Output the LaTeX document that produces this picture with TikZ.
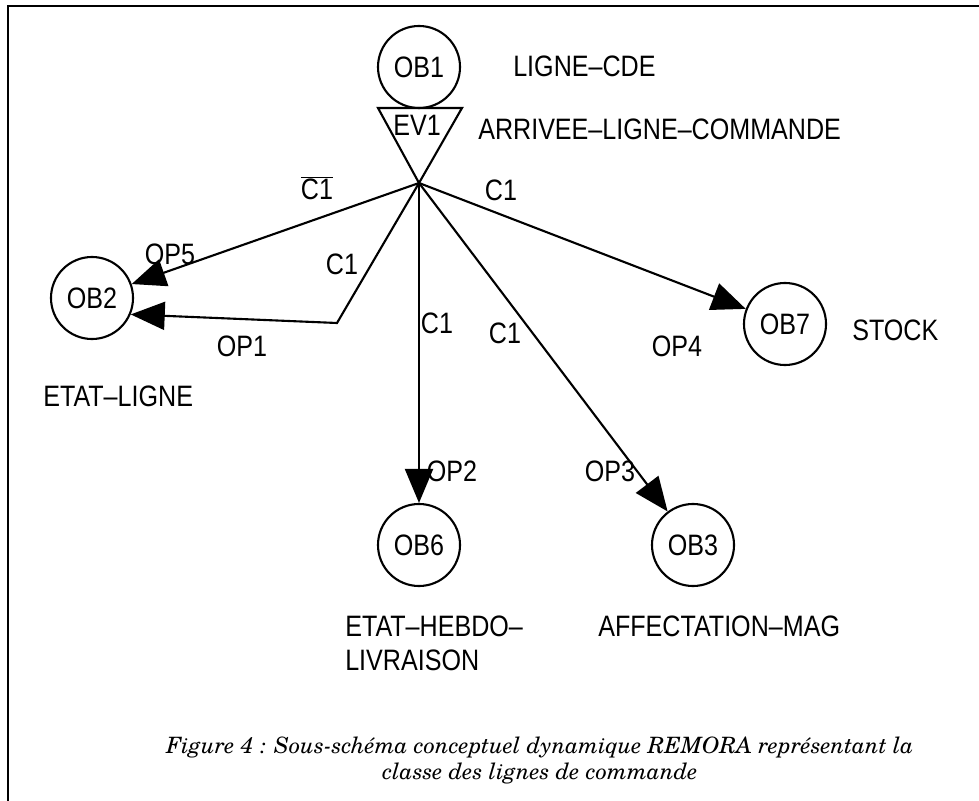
\documentclass[tikz,border=0pt]{standalone}
\usepackage{fontspec}
\newfontfamily\plotfont[FakeStretch=0.85]{Liberation Sans}
\newfontfamily\legendfont{TeX Gyre Schola}
\usetikzlibrary{arrows.meta}
\newlength{\obsize}
\setlength{\obsize}{2.05cm}
\newcommand{\objet}[3]{
  \node[obj] (#1) at (#2) {#3};
}
\tikzset{
  obj/.style={draw, circle, line width=1.5pt, minimum size=\obsize, inner sep=0pt,
    font=\plotfont\fontsize{21}{24}\selectfont},
  lbl/.style={font=\plotfont\fontsize{21}{24}\selectfont, inner sep=0pt},
  op/.style={line width=1.5pt, -{Triangle[length=0.85cm, width=0.7cm]}},
}

\begin{document}
\begin{tikzpicture}[x=0.025cm, y=-0.025cm]
  \useasboundingbox (0,0) rectangle (979,801);
  % cadre
  \draw[line width=1.5pt] (979,6) -- (8,6) -- (8,801);

  \begin{scope}[yshift=0.3cm]
  \objet{ob1}{419,79}{OB1}
  \objet{ob2}{92,310}{OB2}
  \objet{ob6}{419,557}{OB6}
  \objet{ob3}{693,557}{OB3}
  \objet{ob7}{785,336}{OB7}

  % evenement
  \coordinate (evl) at (378,120);
  \coordinate (evr) at (462,120);
  \coordinate (ev) at (419,195);
  \draw[line width=1.5pt] (evl) -- (evr) -- (ev) -- cycle;
  \node[lbl] (ev1) at (417,137) {EV1};

  \coordinate (coude) at (337,335);
  \draw[op] (ev) -- (ob2);
  \draw[op] (ev) -- (coude) -- (ob2.-23);
  \draw[op] (ev) -- (ob6);
  \draw[op] (ev) -- (ob3);
  \draw[op] (ev) -- (ob7);

  \node[lbl] (c1bar) at (317,200) {$\overline{\hbox{C1}}$};
  \node[lbl] (c1a) at (501,202) {C1};
  \node[lbl] (c1b) at (342,276) {C1};
  \node[lbl] (c1c) at (437,335) {C1};
  \node[lbl] (c1d) at (505,345) {C1};
  \node[lbl] (op5) at (170,266) {OP5};
  \node[lbl] (op1) at (242,358) {OP1};
  \node[lbl] (op2) at (452,483) {OP2};
  \node[lbl] (op3) at (610,483) {OP3};
  \node[lbl] (op4) at (677,358) {OP4};

  \node[lbl, anchor=west] (nom1) at (513,78) {LIGNE–CDE};
  \node[lbl, anchor=west] (nomev1) at (478,141) {ARRIVEE–LIGNE–COMMANDE};
  \node[lbl, anchor=west] (nom7) at (852,342) {STOCK};
  \node[lbl, anchor=west] (nom2) at (43,408) {ETAT–LIGNE};
  \node[lbl, anchor=north west, align=left] (nom6) at (345,628) {ETAT–HEBDO–\\LIVRAISON};
  \node[lbl, anchor=north west] (nom3) at (598,628) {AFFECTATION–MAG};
  \end{scope}

  \node[font=\legendfont\itshape\fontsize{16}{18.5}\selectfont, align=center] (legende) at (540,760)
    {Figure 4 : Sous-schéma conceptuel dynamique REMORA représentant la\\
     classe des lignes de commande};
\end{tikzpicture}
\end{document}
